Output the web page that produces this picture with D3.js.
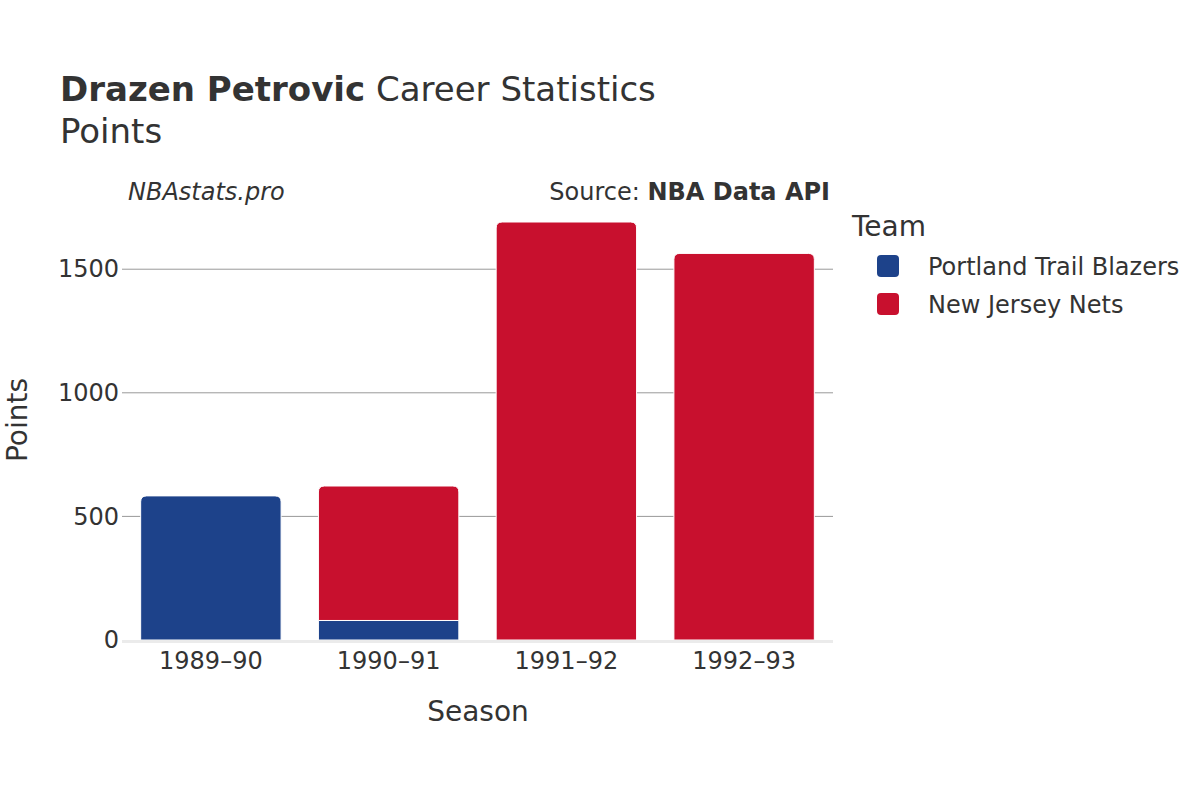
<!DOCTYPE html>
<html>
<head>
<meta charset="utf-8">
<script src="https://cdn.jsdelivr.net/npm/d3@7"></script>
<style>
  body { margin: 0; background: #fff; }
  svg { font-family: "DejaVu Sans", sans-serif; }
</style>
</head>
<body>
<svg id="chart" width="1200" height="800"></svg>
<script>
const seasons = ["1989–90", "1990–91", "1991–92", "1992–93"];
const teams = ["Portland Trail Blazers", "New Jersey Nets"];
const teamColors = ["#1d428a", "#c8102e"];
const portlandPts = [583, 79, 0, 0];
const netsPts = [0, 544, 1691, 1564];
const yTicks = [0, 500, 1000, 1500];

const svg = d3.select("#chart");
const margin = { top: 200, left: 122, right: 367, bottom: 160 };
const innerW = 1200 - margin.left - margin.right;
const innerH = 800 - margin.top - margin.bottom;

const x = d3.scaleBand().domain(seasons).range([0, innerW]).paddingInner(0.21).paddingOuter(0.105);
const y = d3.scaleLinear().domain([0, 1780]).range([innerH, 0]);

const g = svg.append("g").attr("transform", `translate(${margin.left},${margin.top})`);

// grid
g.selectAll(".grid")
  .data(yTicks.filter(d => d > 0))
  .enter().append("line")
  .attr("x1", 0).attr("x2", innerW)
  .attr("y1", d => y(d)).attr("y2", d => y(d))
  .attr("stroke", "#999").attr("stroke-width", 1);

// stacked data
const rows = seasons.map((s, i) => ({ season: s, p: portlandPts[i], n: netsPts[i] }));
const stack = d3.stack().keys(["p", "n"])(rows);

// rounded top path helper
function barPath(x0, x1, y0, y1, r) {
  r = Math.min(r, (y0 - y1), (x1 - x0) / 2);
  return `M${x0},${y0}V${y1 + r}Q${x0},${y1} ${x0 + r},${y1}H${x1 - r}Q${x1},${y1} ${x1},${y1 + r}V${y0}Z`;
}

stack.forEach((layer, li) => {
  g.selectAll(".bar" + li)
    .data(layer.filter(d => d[1] - d[0] > 0))
    .enter().append("path")
    .attr("fill", teamColors[li])
    .attr("stroke", "#fff")
    .attr("stroke-width", 1)
    .attr("d", d => {
      const top = li === 1 || d.data.n === 0;
      const x0 = x(d.data.season), x1 = x0 + x.bandwidth();
      return barPath(x0, x1, y(d[0]), y(d[1]), top ? 6 : 0);
    });
});

// zero line
g.append("line")
  .attr("x1", 0).attr("x2", innerW)
  .attr("y1", y(0) + 1.5).attr("y2", y(0) + 1.5)
  .attr("stroke", "#ebebeb").attr("stroke-width", 3);

// axes
const xAxis = g.append("g")
  .attr("transform", `translate(0,${innerH})`)
  .call(d3.axisBottom(x).tickSize(0).tickPadding(9));
xAxis.select(".domain").remove();
xAxis.selectAll("text").attr("font-size", 24).attr("fill", "#333").attr("font-family", "DejaVu Sans").attr("dy", "0.85em");

const yAxis = g.append("g")
  .call(d3.axisLeft(y).tickValues(yTicks).tickSize(0).tickPadding(3).tickFormat(d3.format("d")));
yAxis.select(".domain").remove();
yAxis.selectAll("text").attr("font-size", 24).attr("fill", "#333").attr("font-family", "DejaVu Sans");

// titles
const title = svg.append("text").attr("x", 60).attr("y", 101).attr("font-size", 34).attr("fill", "#333");
title.append("tspan").attr("font-weight", "bold").text("Drazen Petrovic");
title.append("tspan").text(" Career Statistics");
svg.append("text").attr("x", 60).attr("y", 143).attr("font-size", 34).attr("fill", "#333").text("Points");

svg.append("text").attr("x", 128).attr("y", 200).attr("font-size", 24).attr("font-style", "italic")
  .attr("fill", "#333").text("NBAstats.pro");
const src = svg.append("text").attr("x", 830).attr("y", 200).attr("text-anchor", "end")
  .attr("font-size", 24).attr("fill", "#333");
src.append("tspan").text("Source: ");
src.append("tspan").attr("font-weight", "bold").text("NBA Data API");

svg.append("text").attr("x", 478).attr("y", 721).attr("text-anchor", "middle")
  .attr("font-size", 28).attr("fill", "#333").text("Season");
svg.append("text").attr("transform", "translate(27,420) rotate(-90)").attr("text-anchor", "middle")
  .attr("font-size", 28).attr("fill", "#333").text("Points");

// legend
svg.append("text").attr("x", 852).attr("y", 236).attr("font-size", 28).attr("fill", "#333").text("Team");
const leg = svg.selectAll(".leg").data(teams).enter().append("g")
  .attr("transform", (d, i) => `translate(877,${255 + i * 38})`);
leg.append("rect").attr("width", 22).attr("height", 22).attr("rx", 4)
  .attr("fill", (d, i) => teamColors[i]);
leg.append("text").attr("x", 51).attr("y", 20).attr("font-size", 24).attr("fill", "#333").text(d => d);
</script>
</body>
</html>
